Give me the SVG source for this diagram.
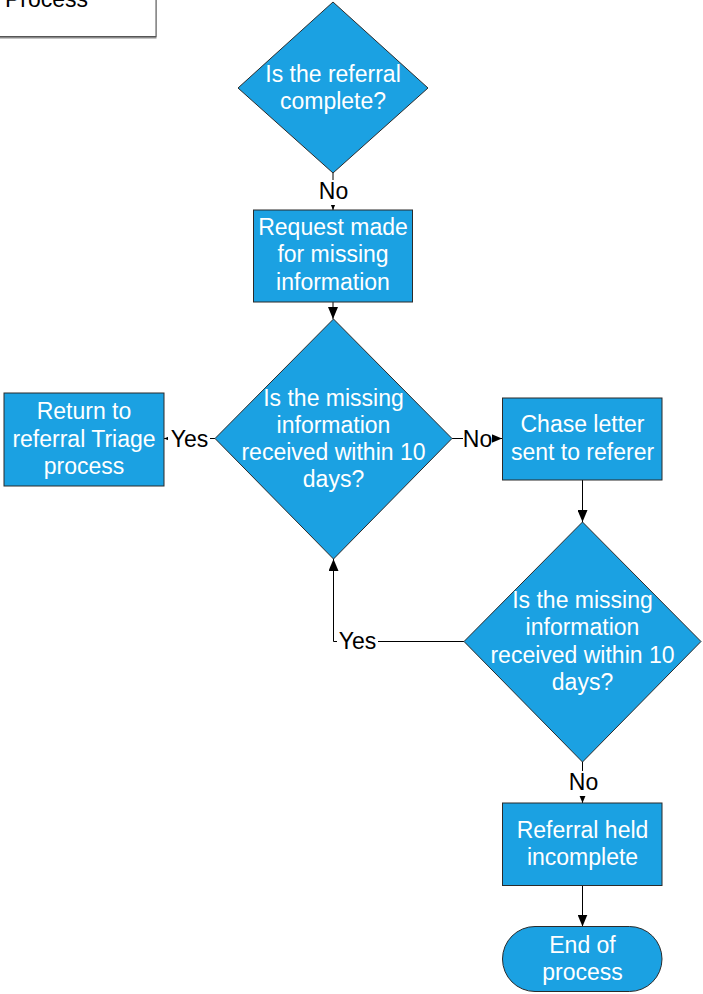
<svg xmlns="http://www.w3.org/2000/svg" width="703" height="994" viewBox="0 0 703 994">
<defs>
<marker id="arr" markerUnits="userSpaceOnUse" markerWidth="12" markerHeight="10" refX="12" refY="5" orient="auto">
<path d="M0,0 L12,5 L0,10 z" fill="#000"/>
</marker>
<style>
.n{fill:#1BA1E2;stroke:#2b2b2b;stroke-width:1}
.t{font-family:"Liberation Sans",Arial,sans-serif;font-size:23px;fill:#fff;text-anchor:middle}
.l{font-family:"Liberation Sans",Arial,sans-serif;font-size:23px;fill:#000;text-anchor:middle}
.c{fill:none;stroke:#000;stroke-width:1}
.bg{fill:#fff}
</style>
</defs>
<rect width="703" height="994" fill="#fff"/>

<g id="note">
<rect x="-10" y="-20" width="166.5" height="58.5" fill="#8a8a8a"/>
<rect x="-10" y="-20" width="166" height="56.5" fill="#fff" stroke="#555" stroke-width="1"/>
<text class="l" x="5" y="7" style="text-anchor:start">Process</text>
</g>

<g id="connectors">
<path class="c" d="M333,173 V210" marker-end="url(#arr)"/>
<path class="c" d="M333,302 V319" marker-end="url(#arr)"/>
<path class="c" d="M215,438.5 H164" marker-end="url(#arr)"/>
<path class="c" d="M452,438.5 H502" marker-end="url(#arr)"/>
<path class="c" d="M582.5,480 V522" marker-end="url(#arr)"/>
<path class="c" d="M464,641.5 H333.5 V559" marker-end="url(#arr)"/>
<path class="c" d="M582.5,762 V803" marker-end="url(#arr)"/>
<path class="c" d="M582.5,885.5 V926.5" marker-end="url(#arr)"/>
<rect class="bg" x="318" y="180" width="31" height="25"/>
<text class="l" x="333.5" y="199">No</text>
<rect class="bg" x="168" y="428" width="42" height="22"/>
<text class="l" x="189.5" y="446.5">Yes</text>
<rect class="bg" x="463" y="428" width="29" height="22"/>
<text class="l" x="477.5" y="446.5">No</text>
<rect class="bg" x="337" y="631" width="41" height="22"/>
<text class="l" x="357.5" y="648.5">Yes</text>
<rect class="bg" x="568" y="771" width="31" height="25"/>
<text class="l" x="583.5" y="790">No</text>
</g>

<g id="d1">
<polygon class="n" points="333,2 428,88 333,173 238,88"/>
<text class="t" x="333" y="81.5">Is the referral</text>
<text class="t" x="333" y="109">complete?</text>
</g>

<g id="r_request">
<rect class="n" x="253.5" y="210" width="159" height="92"/>
<text class="t" x="333" y="234.5">Request made</text>
<text class="t" x="333" y="262">for missing</text>
<text class="t" x="333" y="289.5">information</text>
</g>

<g id="d2">
<polygon class="n" points="333.5,319 452,438.5 333.5,559 215,438.5"/>
<text class="t" x="333.5" y="405.5">Is the missing</text>
<text class="t" x="333.5" y="432.5">information</text>
<text class="t" x="333.5" y="460">received within 10</text>
<text class="t" x="333.5" y="487">days?</text>
</g>

<g id="r_return">
<rect class="n" x="4" y="393" width="160" height="93"/>
<text class="t" x="84" y="419">Return to</text>
<text class="t" x="84" y="446.5">referral Triage</text>
<text class="t" x="84" y="474">process</text>
</g>

<g id="r_chase">
<rect class="n" x="502.5" y="398" width="159.5" height="82"/>
<text class="t" x="582.5" y="432">Chase letter</text>
<text class="t" x="582.5" y="460">sent to referer</text>
</g>

<g id="d3">
<polygon class="n" points="582.5,522 701,641.5 582.5,762 464,641.5"/>
<text class="t" x="582.5" y="608">Is the missing</text>
<text class="t" x="582.5" y="635">information</text>
<text class="t" x="582.5" y="662.5">received within 10</text>
<text class="t" x="582.5" y="690">days?</text>
</g>

<g id="r_held">
<rect class="n" x="502.5" y="803" width="159.5" height="82.5"/>
<text class="t" x="582.5" y="837.5">Referral held</text>
<text class="t" x="582.5" y="865">incomplete</text>
</g>

<g id="t_end">
<rect class="n" x="502.5" y="926.5" width="159.5" height="65" rx="32.5" ry="32.5"/>
<text class="t" x="582.5" y="953">End of</text>
<text class="t" x="582.5" y="980">process</text>
</g>
</svg>
